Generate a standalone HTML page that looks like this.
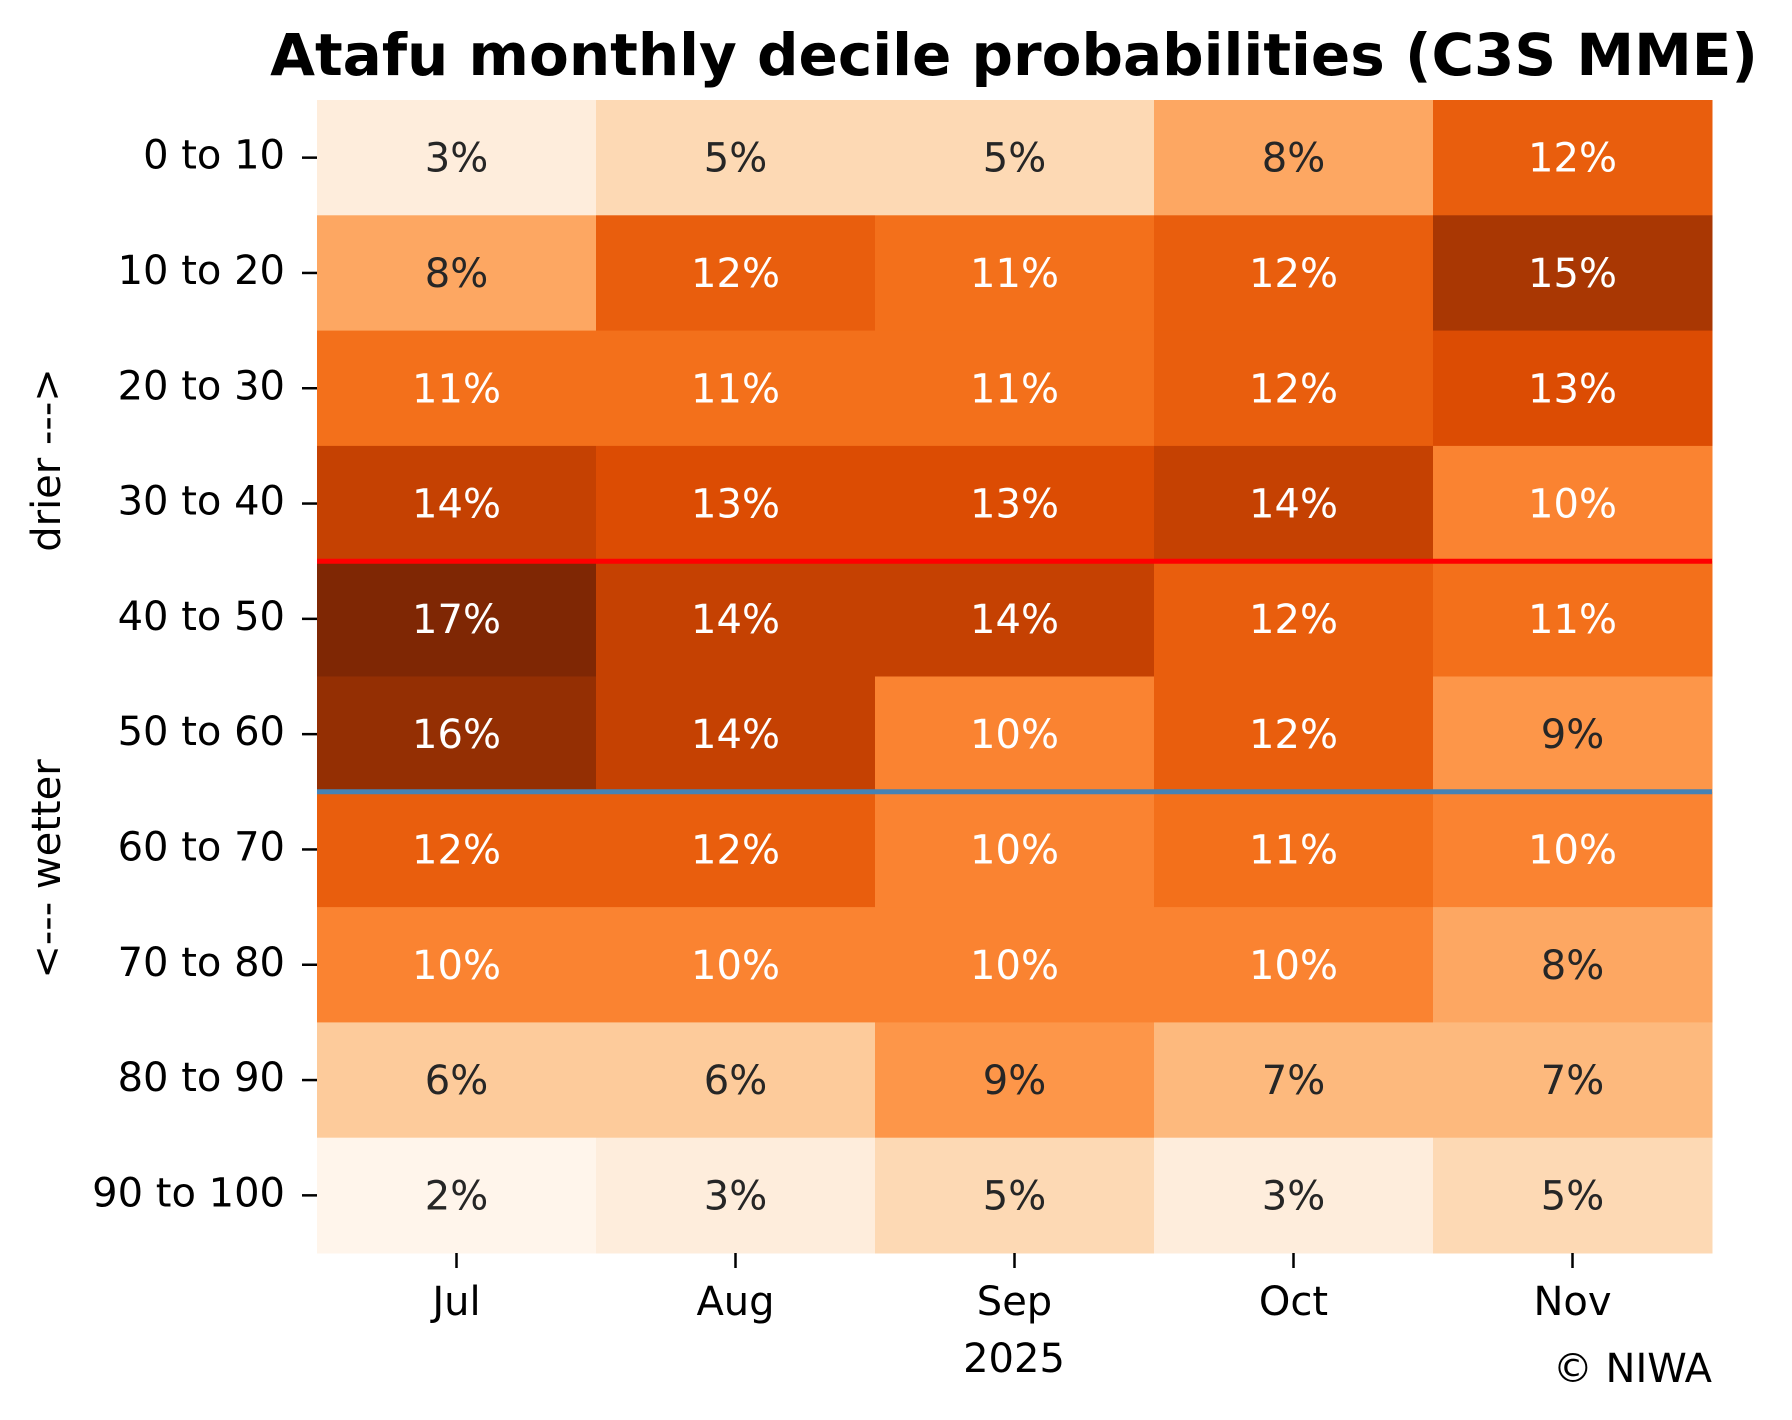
<!DOCTYPE html>
<html><head><meta charset="utf-8"><style>
html,body{margin:0;padding:0;background:#fff;}
svg{display:block;font-family:"DejaVu Sans","Liberation Sans",sans-serif;}
</style></head>
<body>
<svg id="chart" width="1792" height="1420" viewBox="0 0 1792 1420" xmlns="http://www.w3.org/2000/svg">
<text x="1014" y="75" text-anchor="middle" font-size="58" font-weight="bold" fill="#000">Atafu monthly decile probabilities (C3S MME)</text>
<g id="cells"></g>
<g id="yticks"></g>
<g id="xticks"></g>
<text transform="translate(60,460) rotate(-90)" text-anchor="middle" font-size="40" fill="#000">drier ---&gt;</text>
<text transform="translate(60,869) rotate(-90)" text-anchor="middle" font-size="40" fill="#000">&lt;--- wetter</text>
<text x="1014" y="1372" text-anchor="middle" font-size="40" fill="#000">2025</text>
<text x="1712" y="1382" text-anchor="end" font-size="40" fill="#000">© NIWA</text>
</svg>
<script>
const months = ["Jul","Aug","Sep","Oct","Nov"];
const deciles = ["0 to 10","10 to 20","20 to 30","30 to 40","40 to 50","50 to 60","60 to 70","70 to 80","80 to 90","90 to 100"];
const julValues = [3,8,11,14,17,16,12,10,6,2];
const augValues = [5,12,11,13,14,14,12,10,6,3];
const sepValues = [5,11,11,13,14,10,10,10,9,5];
const octValues = [8,12,12,14,12,12,11,10,7,3];
const novValues = [12,15,13,10,11,9,10,8,7,5];
const redLineAfter = 4;
const blueLineAfter = 6;
const vmin = 2, vmax = 17;

const series = [julValues, augValues, sepValues, octValues, novValues];
const NS = "http://www.w3.org/2000/svg";
const plotLeft = 317, plotRight = 1712, plotTop = 100, plotBottom = 1253;
const colW = (plotRight - plotLeft) / months.length;
const rowH = (plotBottom - plotTop) / deciles.length;
const xPos = i => plotLeft + i * colW;
const yPos = j => plotTop + j * rowH;
const stops = ["#fff5eb","#fee6ce","#fdd0a2","#fdae6b","#fd8d3c","#f16913","#d94801","#a63603","#7f2704"].map(h => [1,3,5].map(k => parseInt(h.substr(k,2),16)));
function cmap(v){
  let t = Math.max(0, Math.min(1, (v - vmin) / (vmax - vmin))) * (stops.length - 1);
  let i = Math.min(Math.floor(t), stops.length - 2), f = t - i;
  return stops[i].map((c,k) => Math.round(c + (stops[i+1][k] - c) * f));
}
function lum(rgb){
  const l = rgb.map(c => { c /= 255; return c <= 0.03928 ? c / 12.92 : Math.pow((c + 0.055) / 1.055, 2.4); });
  return 0.2126*l[0] + 0.7152*l[1] + 0.0722*l[2];
}
function mk(tag, attrs, parent){
  const e = document.createElementNS(NS, tag);
  for (const k in attrs) e.setAttribute(k, attrs[k]);
  parent.appendChild(e);
  return e;
}
const cells = document.getElementById("cells");
series.forEach((vals, i) => {
  vals.forEach((v, j) => {
    const rgb = cmap(v);
    const r = mk("rect", {x: xPos(i), y: yPos(j), width: colW + 0.5, height: rowH + 0.5, fill: `rgb(${rgb.join(",")})`}, cells);
    
    
    const t = mk("text", {x: xPos(i) + colW/2, y: yPos(j) + rowH/2 + 14, "text-anchor": "middle", "font-size": "40", fill: lum(rgb) > 0.408 ? "#262626" : "#ffffff"}, cells);
    t.textContent = v + "%";
    
    
  });
});
const redLine = mk("line", {x1: plotLeft, x2: plotRight, y1: yPos(redLineAfter), y2: yPos(redLineAfter), stroke: "#ff0000", "stroke-width": 5}, cells);


const blueLine = mk("line", {x1: plotLeft, x2: plotRight, y1: yPos(blueLineAfter), y2: yPos(blueLineAfter), stroke: "#4682b4", "stroke-width": 5}, cells);



const yt = document.getElementById("yticks");
deciles.forEach((d, j) => {
  const cy = yPos(j) + rowH/2;
  const tk = mk("line", {x1: plotLeft - 15, x2: plotLeft, y1: cy, y2: cy, stroke: "#000", "stroke-width": 2.5}, yt);
  
  
  const t = mk("text", {x: plotLeft - 32, y: cy + 11, "text-anchor": "end", "font-size": "40", fill: "#000"}, yt);
  t.textContent = d;
  
  
});
const xt = document.getElementById("xticks");
months.forEach((m, i) => {
  const cx = xPos(i) + colW/2;
  const tk = mk("line", {x1: cx, x2: cx, y1: plotBottom, y2: plotBottom + 15, stroke: "#000", "stroke-width": 2.5}, xt);
  
  
  const t = mk("text", {x: cx, y: 1315, "text-anchor": "middle", "font-size": "40", fill: "#000"}, xt);
  t.textContent = m;
  
  
});
</script>
</body></html>
